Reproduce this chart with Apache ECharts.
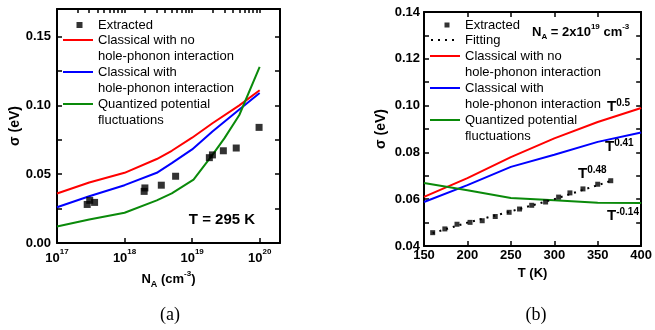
<!DOCTYPE html>
<html><head><meta charset="utf-8">
<script src="https://cdn.jsdelivr.net/npm/echarts@6/dist/echarts.min.js"></script>
<style>html,body{margin:0;padding:0;background:#fff}#c{width:655px;height:330px}</style>
</head><body><div id="c"></div>
<script>
// ---------- Panel (a): sigma vs N_A at T = 295 K ----------
const naModel = [1e17, 3e17, 1e18, 3e18, 5e18, 1e19, 2e19, 5e19, 1e20];
const sigmaNoHP_a = [0.036, 0.044, 0.051, 0.061, 0.067, 0.0765, 0.087, 0.100, 0.111];
const sigmaHP_a = [0.026, 0.034, 0.042, 0.051, 0.058, 0.068, 0.081, 0.097, 0.109];
const naQuantized = [1e17, 3e17, 1e18, 3e18, 5e18, 1.05e19, 2e19, 3e19, 5e19, 1e20];
const sigmaQuantized_a = [0.012, 0.017, 0.022, 0.031, 0.036, 0.046, 0.064, 0.076, 0.093, 0.128];
const naExtracted = [2.8e17, 3.05e17, 3.6e17, 1.95e18, 2.0e18, 3.5e18, 5.7e18, 1.8e19, 2.0e19, 2.9e19, 4.5e19, 9.8e19];
const sigmaExtracted_a = [0.028, 0.031, 0.0295, 0.0375, 0.040, 0.042, 0.0485, 0.062, 0.064, 0.067, 0.069, 0.084];

// ---------- Panel (b): sigma vs T at N_A = 2x10^19 ----------
const tModel = [150, 200, 250, 300, 350, 400];
const sigmaNoHP_b = [0.061, 0.069, 0.078, 0.086, 0.093, 0.099];
const sigmaHP_b = [0.0588, 0.066, 0.0738, 0.079, 0.0845, 0.0885];
const sigmaQuantized_b = [0.0669, 0.0638, 0.0605, 0.0595, 0.0585, 0.0584];
const tExtracted = [160, 174, 188, 203, 217, 232, 248, 260, 274, 290, 305, 318, 333, 350, 365];
const sigmaExtracted_b = [0.0457, 0.0473, 0.0493, 0.0501, 0.0508, 0.0526, 0.0544, 0.0558, 0.0574, 0.0588, 0.0609, 0.0627, 0.0644, 0.0664, 0.0679];
const tFit = [160, 200, 250, 300, 365];
const sigmaFit_b = [0.0455, 0.0500, 0.0548, 0.0600, 0.0678];

// power-law annotations (exponent text)
const powerLabels = ['0.5', '0.41', '0.48', '-0.14'];

const NAME_EXT = 'Extracted';
const NAME_FIT = 'Fitting';
const NAME_NOHP = 'Classical with no\nhole-phonon interaction';
const NAME_HP = 'Classical with\nhole-phonon interaction';
const NAME_Q = 'Quantized potential\nfluctuations';

const FONT = '"Liberation Sans", Arial, Helvetica, sans-serif';
const SERIF = '"Liberation Serif", "Times New Roman", serif';
const RED = '#ff0000', BLUE = '#0000ff', GREEN = '#0a8a0a';

const zip = (xs, ys) => xs.map((x, i) => [x, ys[i]]);

// decoration tick positions
const logMax = Math.log10(2e20);
const topLogTicks = [];
for (let n = 17; n <= 20; n++) for (let k = 1; k <= 9; k++) {
  const v = Math.log10(k) + n; if (v <= logMax + 1e-9) topLogTicks.push(v);
}
const yTicksA = []; for (let i = 0; i <= 6; i++) yTicksA.push(+(i * 0.025).toFixed(3));
const yTicksB = []; for (let i = 4; i <= 14; i++) yTicksB.push(+(i * 0.01).toFixed(2));

const lineSt = { color: '#000', width: 2 };
const tickSt = { color: '#000', width: 1.5 };
const lblBold = { fontFamily: FONT, fontSize: 13, fontWeight: 'bold', color: '#000' };

const chart = echarts.init(document.getElementById('c'), null, { renderer: 'canvas' });

const richAxisName = {
  b: { fontFamily: FONT, fontSize: 13, fontWeight: 'bold', color: '#000', lineHeight: 20 },
  sub: { fontFamily: FONT, fontSize: 9, fontWeight: 'bold', color: '#000', lineHeight: 12, verticalAlign: 'bottom' },
  sup: { fontFamily: FONT, fontSize: 8, fontWeight: 'bold', color: '#000', lineHeight: 9, verticalAlign: 'top' }
};

function legendItem(name, left, top, extra) {
  const base = {
    data: [name], left: left, top: top, orient: 'vertical', padding: 0, itemGap: 0,
    selectedMode: false, itemWidth: 30, itemHeight: 2, icon: 'rect',
    textStyle: { fontFamily: FONT, fontSize: 13, color: '#000', lineHeight: 16 }
  };
  if (extra) {
    if (extra.textStyle) { Object.assign(base.textStyle, extra.textStyle); delete extra.textStyle; }
    Object.assign(base, extra);
  }
  return base;
}
const twoLine = () => ({ formatter: n => '\n' + n });

const mirror = (o) => Object.assign({
  axisLine: { show: true, onZero: false, lineStyle: lineSt },
  axisLabel: { show: false }, splitLine: { show: false }
}, o);

const option = {
  animation: false,
  backgroundColor: '#fff',
  grid: [
    { left: 57, top: 9, width: 223, height: 234 },
    { left: 424, top: 12, width: 223, height: 234 }
  ],
  xAxis: [
    { gridIndex: 0, type: 'log', logBase: 10, min: 1e17, max: 2e20, position: 'bottom',
      axisLine: { show: true, onZero: false, lineStyle: lineSt },
      axisTick: { show: true, inside: true, length: 5, lineStyle: tickSt },
      splitLine: { show: false },
      axisLabel: { margin: 5, showMaxLabel: false,
        formatter: v => '{b|10}{s|' + Math.round(Math.log10(v)) + '}',
        rich: {
          b: { fontFamily: FONT, fontSize: 13, fontWeight: 'bold', color: '#000', lineHeight: 20 },
          s: { fontFamily: FONT, fontSize: 8, fontWeight: 'bold', color: '#000', lineHeight: 9, verticalAlign: 'top' }
        } },
      name: '{b|N}{sub|A}{b| (cm}{sup|-3}{b|)}', nameLocation: 'middle', nameGap: 23,
      nameTextStyle: { rich: richAxisName }
    },
    mirror({ gridIndex: 0, type: 'value', min: 17, max: logMax, position: 'top',
      axisTick: { show: true, inside: true, length: 4, lineStyle: tickSt, customValues: topLogTicks } }),
    { gridIndex: 1, type: 'value', min: 150, max: 400, interval: 50, position: 'bottom',
      axisLine: { show: true, onZero: false, lineStyle: lineSt },
      axisTick: { show: true, inside: true, length: 5, lineStyle: tickSt },
      splitLine: { show: false },
      axisLabel: Object.assign({ margin: 3 }, lblBold),
      name: 'T (K)', nameLocation: 'middle', nameGap: 20,
      nameTextStyle: { fontFamily: FONT, fontSize: 13, fontWeight: 'bold', color: '#000' } },
    mirror({ gridIndex: 1, type: 'value', min: 150, max: 400, interval: 50, position: 'top',
      axisTick: { show: true, inside: true, length: 5, lineStyle: tickSt } })
  ],
  yAxis: [
    { gridIndex: 0, type: 'value', min: 0, max: 0.17, interval: 0.05, position: 'left',
      axisLine: { show: true, onZero: false, lineStyle: lineSt },
      axisTick: { show: true, inside: true, length: 5, lineStyle: tickSt, customValues: yTicksA },
      splitLine: { show: false },
      axisLabel: Object.assign({ margin: 6, showMaxLabel: false, formatter: v => v.toFixed(2) }, lblBold),
      name: 'σ (eV)', nameLocation: 'middle', nameGap: 33,
      nameTextStyle: { fontFamily: FONT, fontSize: 14, fontWeight: 'bold', color: '#000' } },
    mirror({ gridIndex: 0, type: 'value', min: 0, max: 0.17, interval: 0.05, position: 'right',
      axisTick: { show: true, inside: true, length: 5, lineStyle: tickSt, customValues: yTicksA } }),
    { gridIndex: 1, type: 'value', min: 0.04, max: 0.14, interval: 0.02, position: 'left',
      axisLine: { show: true, onZero: false, lineStyle: lineSt },
      axisTick: { show: true, inside: true, length: 5, lineStyle: tickSt, customValues: yTicksB },
      splitLine: { show: false },
      axisLabel: Object.assign({ margin: 4, formatter: v => v.toFixed(2) }, lblBold),
      name: 'σ (eV)', nameLocation: 'middle', nameGap: 36,
      nameTextStyle: { fontFamily: FONT, fontSize: 14, fontWeight: 'bold', color: '#000' } },
    mirror({ gridIndex: 1, type: 'value', min: 0.04, max: 0.14, interval: 0.02, position: 'right',
      axisTick: { show: true, inside: true, length: 5, lineStyle: tickSt, customValues: yTicksB } })
  ],
  legend: [
    legendItem(NAME_EXT, 76.5, 17, { itemWidth: 6, itemHeight: 6, textStyle: { padding: [0, 0, 0, 10.5] } }),
    legendItem(NAME_NOHP, 63, 16, twoLine()),
    legendItem(NAME_HP, 63, 48, twoLine()),
    legendItem(NAME_Q, 63, 80, twoLine()),
    legendItem(NAME_EXT, 444.5, 17, { itemWidth: 5, itemHeight: 5, textStyle: { padding: [0, 0, 0, 10.5] } }),
    legendItem(NAME_FIT, 431, 32, { itemWidth: 23, itemHeight: 2,
      icon: 'path://M0,0h2v2h-2z M7,0h2v2h-2z M14,0h2v2h-2z M21,0h2v2h-2z', textStyle: { padding: [0, 0, 0, 6] } }),
    legendItem(NAME_NOHP, 430, 32, twoLine()),
    legendItem(NAME_HP, 430, 64, twoLine()),
    legendItem(NAME_Q, 430, 96, twoLine())
  ],
  series: [
    { type: 'line', name: NAME_NOHP, xAxisIndex: 0, yAxisIndex: 0, data: zip(naModel, sigmaNoHP_a),
      symbol: 'none', lineStyle: { color: RED, width: 2 }, itemStyle: { color: RED } },
    { type: 'line', name: NAME_HP, xAxisIndex: 0, yAxisIndex: 0, data: zip(naModel, sigmaHP_a),
      symbol: 'none', lineStyle: { color: BLUE, width: 2 }, itemStyle: { color: BLUE } },
    { type: 'line', name: NAME_Q, xAxisIndex: 0, yAxisIndex: 0, data: zip(naQuantized, sigmaQuantized_a),
      symbol: 'none', lineStyle: { color: GREEN, width: 2 }, itemStyle: { color: GREEN } },
    { type: 'scatter', name: NAME_EXT, xAxisIndex: 0, yAxisIndex: 0, data: zip(naExtracted, sigmaExtracted_a),
      symbol: 'rect', symbolSize: 7, itemStyle: { color: '#000' }, z: 5 },
    // empty series so the mirror (frame) axes are bound to a coordinate system
    { type: 'line', name: '_frameA', xAxisIndex: 1, yAxisIndex: 1, data: [], silent: true },

    { type: 'line', name: NAME_NOHP, xAxisIndex: 2, yAxisIndex: 2, data: zip(tModel, sigmaNoHP_b),
      symbol: 'none', lineStyle: { color: RED, width: 2 }, itemStyle: { color: RED } },
    { type: 'line', name: NAME_HP, xAxisIndex: 2, yAxisIndex: 2, data: zip(tModel, sigmaHP_b),
      symbol: 'none', lineStyle: { color: BLUE, width: 2 }, itemStyle: { color: BLUE } },
    { type: 'line', name: NAME_Q, xAxisIndex: 2, yAxisIndex: 2, data: zip(tModel, sigmaQuantized_b),
      symbol: 'none', lineStyle: { color: GREEN, width: 2 }, itemStyle: { color: GREEN } },
    { type: 'line', name: NAME_FIT, xAxisIndex: 2, yAxisIndex: 2, data: zip(tFit, sigmaFit_b),
      symbol: 'none', lineStyle: { color: '#000', width: 2, type: [2, 5] }, itemStyle: { color: '#000' } },
    { type: 'scatter', name: NAME_EXT, xAxisIndex: 2, yAxisIndex: 2, data: zip(tExtracted, sigmaExtracted_b),
      symbol: 'rect', symbolSize: 5, itemStyle: { color: '#000' }, z: 5 },
    { type: 'line', name: '_frameB', xAxisIndex: 3, yAxisIndex: 3, data: [], silent: true }
  ],
  graphic: [
    { type: 'text', x: 222, y: 220, style: { text: 'T = 295 K', font: 'bold 15px ' + FONT, fill: '#000', align: 'center', verticalAlign: 'middle' } },
    { type: 'text', x: 170, y: 315, style: { text: '(a)', font: '18px ' + SERIF, fill: '#000', align: 'center', verticalAlign: 'middle' } },
    { type: 'text', x: 536, y: 315, style: { text: '(b)', font: '18px ' + SERIF, fill: '#000', align: 'center', verticalAlign: 'middle' } },
    { type: 'text', x: 532, y: 32, style: { text: '{b|N}{sub|A}{b| = 2x10}{sup|19}{b| cm}{sup|-3}', align: 'left', verticalAlign: 'middle',
        rich: {
          b: { fontFamily: FONT, fontSize: 13, fontWeight: 'bold', fill: '#000', lineHeight: 18 },
          sub: { fontFamily: FONT, fontSize: 8, fontWeight: 'bold', fill: '#000', lineHeight: 10, verticalAlign: 'bottom' },
          sup: { fontFamily: FONT, fontSize: 8, fontWeight: 'bold', fill: '#000', lineHeight: 9, verticalAlign: 'top' }
        } } },
    ...[[607, 107], [605, 147], [578, 174], [607, 216]].map(([x, y], i) => ({
      type: 'text', x: x, y: y, style: { text: '{t|T}{e|' + powerLabels[i] + '}', align: 'left', verticalAlign: 'middle',
        rich: {
          t: { fontFamily: FONT, fontSize: 15, fontWeight: 'bold', fill: '#000', lineHeight: 18 },
          e: { fontFamily: FONT, fontSize: 10, fontWeight: 'bold', fill: '#000', lineHeight: 11, verticalAlign: 'top' }
        } }
    }))
  ]
};
chart.setOption(option);
</script>
</body></html>
